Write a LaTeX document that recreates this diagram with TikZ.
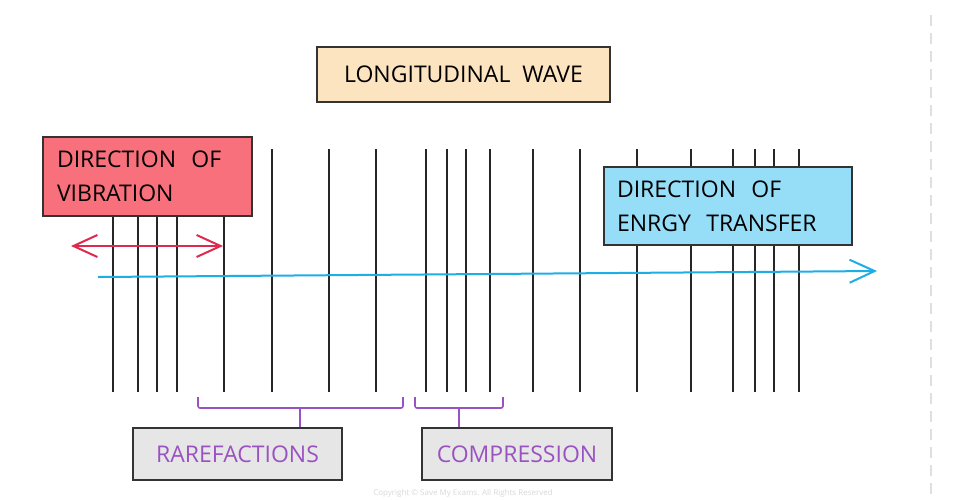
\documentclass[tikz,border=0pt]{standalone}
\usepackage{fontspec}
\setmainfont{Open Sans}
\usepackage{xcolor}
\usepackage{tikz}
\usetikzlibrary{arrows.meta}
\usetikzlibrary{calc}
\definecolor{vibred}{HTML}{F7707B}
\definecolor{arrred}{HTML}{DF2A50}
\definecolor{enblue}{HTML}{96DEF8}
\definecolor{arrblue}{HTML}{1DAEE6}
\definecolor{titlepeach}{HTML}{FDE4C1}
\definecolor{bracepurple}{HTML}{9A52C2}
\definecolor{labelgray}{HTML}{E6E6E6}
\tikzset{
  labelbox/.style={draw=black!80,line width=1.3pt,inner sep=0pt,font=\fontsize{23}{34}\selectfont},
  layer/.style={line width=1.3pt,black!85},
  bracket/.style={draw=bracepurple,line width=1.6pt,rounded corners=2pt},
}

\begin{document}
\begin{tikzpicture}[x=1pt,y=-1pt]
        \useasboundingbox[fill=white] (0,0) rectangle (979,499);

        %%% Side margin %%%
        \draw[gray!25,line width=2pt,dash pattern=on 11pt off 7pt] (931,15)--(931,499);

        %%% Layers of the wave %%%
        \foreach \x in {113,138,157,177,224,272,329,376,426,447,466,490,533,580,637,691,733,755,774,799}
            \draw[layer] (\x,149)--(\x,392);

        %%% Title %%%
        \node[labelbox,fill=titlepeach,minimum width=293pt,minimum height=55pt] (title) at (463.5,74.5) {LONGITUDINAL\ \ WAVE};

        %%% Direction of vibration %%%
        \node[labelbox,fill=vibred,minimum width=209pt,minimum height=79pt,text width=181pt,align=left] (vib) at (147.5,176.5) {DIRECTION\ \ OF\\VIBRATION};
        \coordinate (vibL) at (71,246);
        \coordinate (vibR) at (223,246);
        \draw[arrred,line width=2pt,{Straight Barb[length=24pt,width=22pt]}-{Straight Barb[length=24pt,width=22pt]}] (vibL)--(vibR);

        %%% Direction of energy transfer %%%
        \node[labelbox,fill=enblue,minimum width=248pt,minimum height=78pt,text width=222pt,align=left] (transfer) at (728,206) {DIRECTION\ \ OF\\ENRGY\ \ TRANSFER};
        \coordinate (travL) at (98,277);
        \coordinate (travR) at (877,271);
        \draw[arrblue,line width=2pt,-{Straight Barb[length=25pt,width=23pt]}] (travL)--(travR);

        %%% Rarefactions %%%
        \node[labelbox,fill=labelgray,text=bracepurple,minimum width=209pt,minimum height=52pt] (rare) at (237.5,454) {RAREFACTIONS};
        \draw[bracket] (198,397)--(198,408)--(403,408)--(403,397);
        \coordinate (rareMid) at (300,408);
        \draw[bracepurple,line width=1.6pt] (rareMid)--(rareMid |- rare.north);

        %%% Compression %%%
        \node[labelbox,fill=labelgray,text=bracepurple,minimum width=190pt,minimum height=52pt] (comp) at (517,454) {COMPRESSION};
        \draw[bracket] (415,397)--(415,408)--(503,408)--(503,397);
        \coordinate (compMid) at (459,408);
        \draw[bracepurple,line width=1.6pt] (compMid)--(compMid |- comp.north);

        %%% Copyright %%%
        \node[gray!30,font=\fontsize{8}{9}\selectfont,anchor=base] (copy) at (463,495) {Copyright \textcopyright{} Save My Exams. All Rights Reserved};
    \end{tikzpicture}
\end{document}
